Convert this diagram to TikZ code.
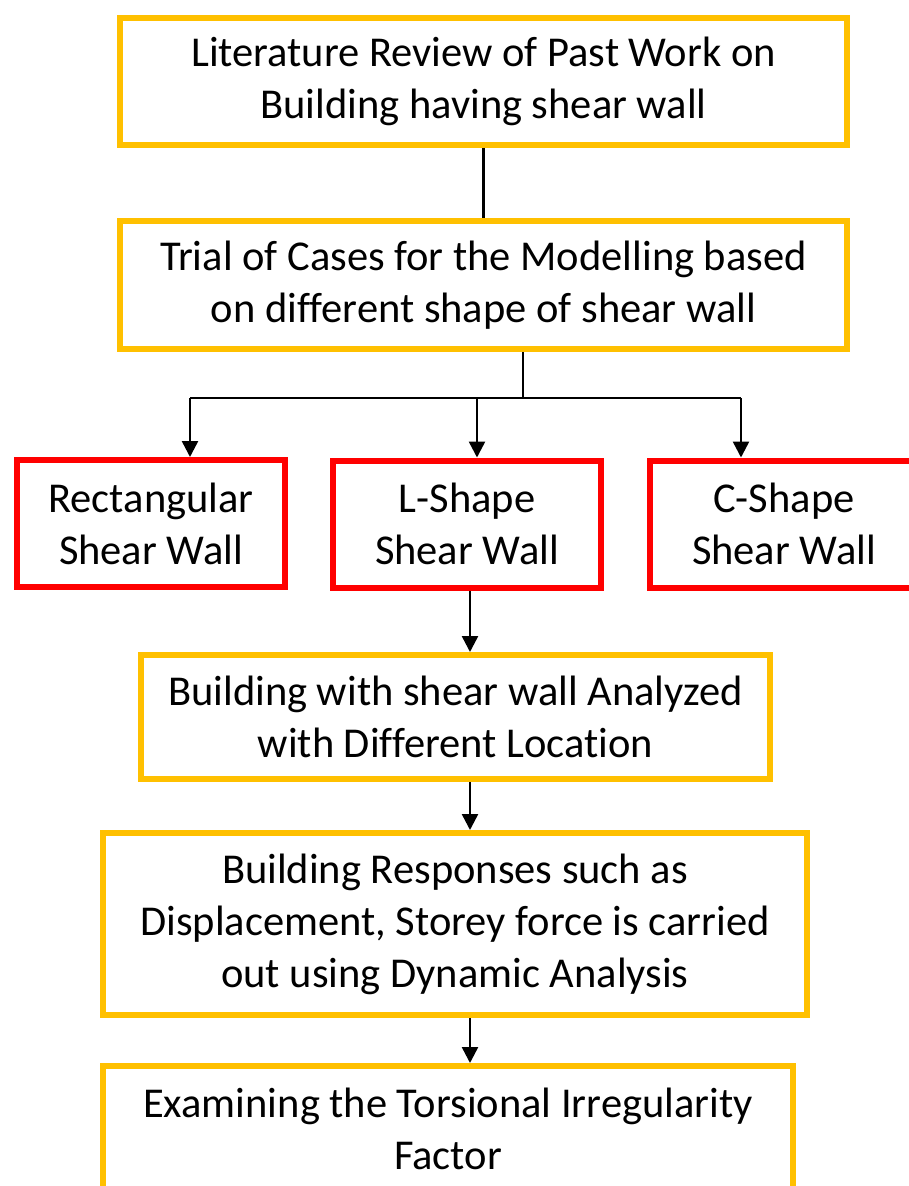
\documentclass[tikz,border=0pt]{standalone}
\usepackage{fontspec}
\setmainfont{Carlito}[Ligatures=NoCommon]
\usetikzlibrary{arrows.meta,positioning,calc}

\definecolor{boxyellow}{HTML}{FFC000}
\definecolor{boxred}{HTML}{FF0000}

\begin{document}
\begin{tikzpicture}[x=1pt,y=1pt]

\useasboundingbox (0,0) rectangle (909,-1186);
\clip (0,0) rectangle (909,-1186);

% set style here
\tikzstyle{every node}=[font=\fontsize{42.5}{52}\selectfont,align=center,inner sep=0pt,
  execute at begin node={\rule{0pt}{38pt}}];
\tikzstyle{stagebox}=[draw=boxyellow,line width=6pt];
\tikzstyle{shapebox}=[draw=boxred,line width=6pt,minimum width=268pt,minimum height=127pt];
\tikzstyle{link}=[draw=black,line width=2.5pt];
\tikzstyle{flow}=[link,-{Triangle[width=16pt,length=16pt]}];
%
\node (lit)   at (483.5, -81.5) [stagebox,minimum width=727pt,minimum height=127pt]
      {Literature Review of Past Work on\\Building having shear wall};
\node (trial) at (483.5, -285) [stagebox,minimum width=727pt,minimum height=128pt]
      {Trial of Cases for the Modelling based\\on different shape of shear wall};
\node (rect)  at (151, -523.5) [shapebox] {Rectangular\\Shear Wall};
\node (lsh)   at (467, -524) [shapebox] {L-Shape\\Shear Wall};
\node (csh)   at (784, -524) [shapebox] {C-Shape\\Shear Wall};
\node (anal)  at (455.5, -717) [stagebox,minimum width=629pt,minimum height=124pt]
      {Building with shear wall Analyzed\\with Different Location};
\node (resp)  at (455, -924) [stagebox,minimum width=704pt,minimum height=182pt]
      {Building Responses such as\\Displacement, Storey force is carried\\out using Dynamic Analysis};
\node (tors)  at (448, -1129) [stagebox,minimum width=690pt,minimum height=126pt]
      {Examining the Torsional Irregularity\\Factor};

% branch points
\coordinate (split) at (523, -398);
\coordinate (br1) at (190, -398);
\coordinate (br2) at (477, -398);
\coordinate (br3) at (741, -398);
\coordinate (axis) at (470, 0);

\draw[link] (lit.south) -- (trial.north);
\draw[link] (trial.south -| split) -- (split);
\draw[link] (br1) -- (br3);
\draw[flow] (br1) -- (br1 |- rect.north);
\draw[flow] (br2) -- (br2 |- lsh.north);
\draw[flow] (br3) -- (br3 |- csh.north);
\draw[flow] (lsh.south -| axis) -- (anal.north -| axis);
\draw[flow] (anal.south -| axis) -- (resp.north -| axis);
\draw[flow] (resp.south -| axis) -- (tors.north -| axis);

\end{tikzpicture}
\end{document}
